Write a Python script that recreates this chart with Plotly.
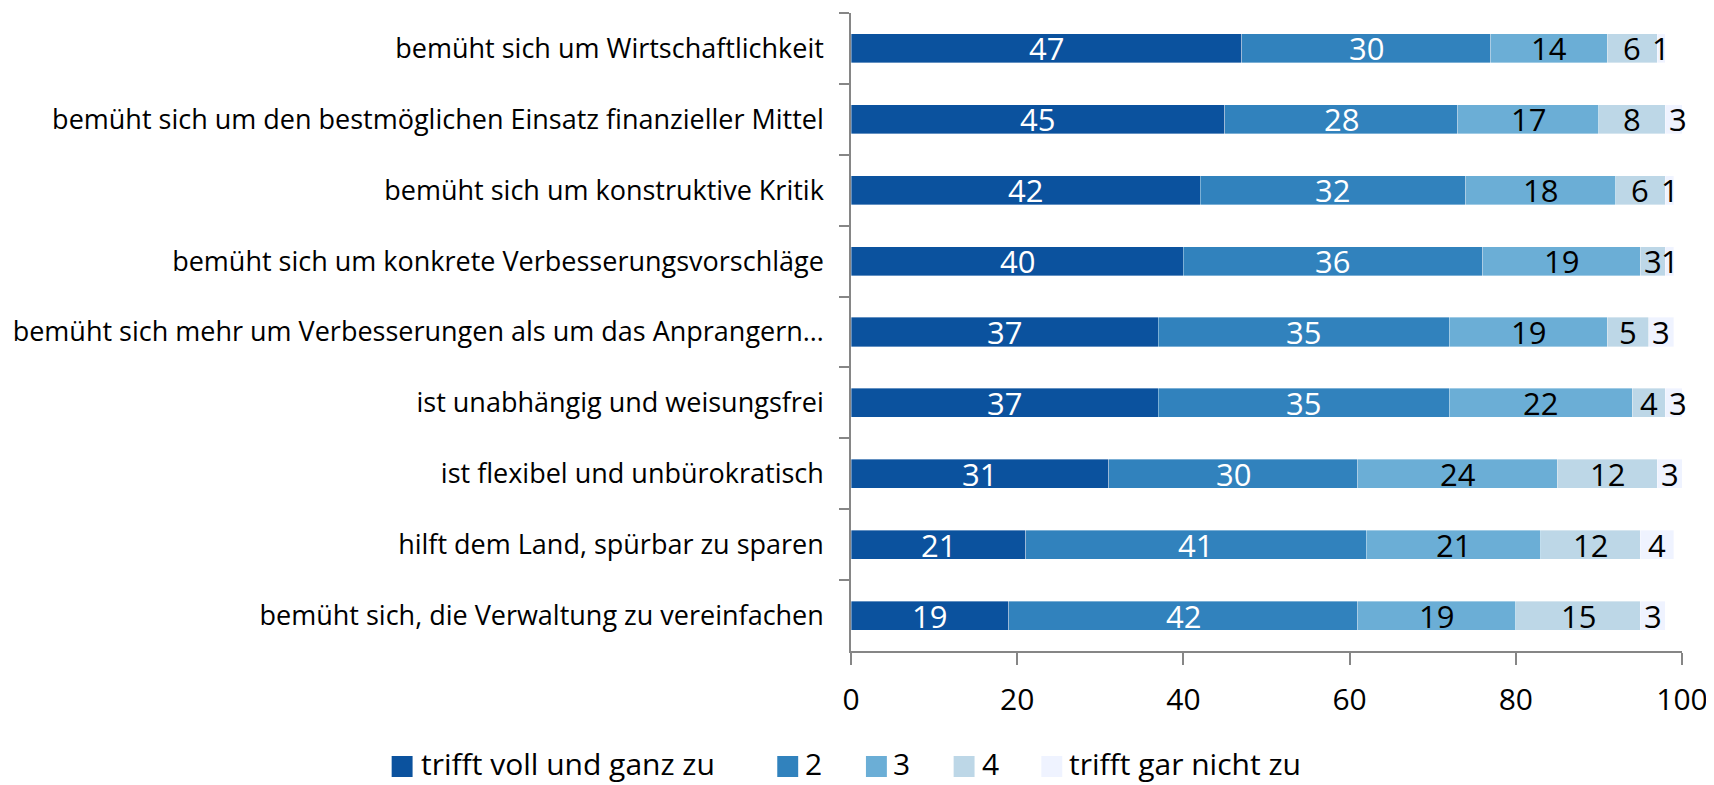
import plotly.graph_objects as go

categories = [
    "bemüht sich um Wirtschaftlichkeit",
    "bemüht sich um den bestmöglichen Einsatz finanzieller Mittel",
    "bemüht sich um konstruktive Kritik",
    "bemüht sich um konkrete Verbesserungsvorschläge",
    "bemüht sich mehr um Verbesserungen als um das Anprangern…",
    "ist unabhängig und weisungsfrei",
    "ist flexibel und unbürokratisch",
    "hilft dem Land, spürbar zu sparen",
    "bemüht sich, die Verwaltung zu vereinfachen",
]
series_names = ["trifft voll und ganz zu", "2", "3", "4", "trifft gar nicht zu"]
v1 = [47, 45, 42, 40, 37, 37, 31, 21, 19]
v2 = [30, 28, 32, 36, 35, 35, 30, 41, 42]
v3 = [14, 17, 18, 19, 19, 22, 24, 21, 19]
v4 = [6, 8, 6, 3, 5, 4, 12, 12, 15]
v5 = [1, 3, 1, 1, 3, 3, 3, 4, 3]
x_ticks = [0, 20, 40, 60, 80, 100]

colors = ["#0b529e", "#3182bd", "#6baed6", "#bdd7e7", "#eff3ff"]
text_colors = ["white", "white", "black", "black", "black"]
FONT = "Open Sans"

# page is rendered with an 8px body margin; compensate
OFF = 8
W, H = 1714 - OFF, 785 - OFF
PLOT_L, PLOT_R, PLOT_T, PLOT_B = 848, 1682, 13, 651  # page pixels
ML, MR, MT, MB = PLOT_L - OFF, W - (PLOT_R - OFF), PLOT_T - OFF, H - (PLOT_B - OFF)
PW, PH = W - ML - MR, H - MT - MB


def px_x(px):
    return (px - OFF - ML) / PW


def px_y(py):
    return (H - MB - (py - OFF)) / PH


fig = go.Figure()
all_series = [v1, v2, v3, v4, v5]
cum = [0] * len(categories)
annotations = []
for name, vals, col, tcol in zip(series_names, all_series, colors, text_colors):
    fig.add_trace(go.Bar(
        y=categories, x=vals, name=name, orientation="h", showlegend=False,
        marker=dict(color=col, line=dict(color="rgba(255,255,255,0.6)", width=0.6)),
    ))
    for i, (cat, v) in enumerate(zip(categories, vals)):
        annotations.append(dict(
            x=cum[i] + v / 2, y=cat, xref="x", yref="y", text=str(v), showarrow=False,
            font=dict(family=FONT, size=31, color=tcol), xanchor="center", yanchor="middle",
        ))
        cum[i] += v

# manual legend (square swatches + labels), page pixel positions
legend_sq_left = [387, 774, 863, 951, 1039]
legend_text_left = [418, 804, 892, 981, 1069]
shapes = []
for name, col, sx, tx in zip(series_names, colors, legend_sq_left, legend_text_left):
    shapes.append(dict(type="rect", xref="paper", yref="paper",
                       x0=px_x(sx), x1=px_x(sx + 21), y0=px_y(777), y1=px_y(756),
                       fillcolor=col, line=dict(width=0)))
    annotations.append(dict(x=px_x(tx - 4), y=px_y(763), xref="paper", yref="paper",
                            text=name, showarrow=False, xanchor="left", yanchor="middle",
                            font=dict(family=FONT, size=30, color="black")))

fig.update_layout(
    barmode="stack",
    bargap=0.59,
    width=W, height=H,
    margin=dict(l=ML, r=MR, t=MT, b=MB),
    plot_bgcolor="white", paper_bgcolor="white",
    font=dict(family=FONT, color="black"),
    showlegend=False,
    annotations=annotations,
    shapes=shapes,
    xaxis=dict(range=[0, 100], tickvals=x_ticks, showgrid=False, zeroline=False,
               showline=True, linecolor="#868686", linewidth=1.5,
               ticks="outside", ticklen=12, tickcolor="#868686", tickwidth=1.5,
               tickfont=dict(size=30, family=FONT, color="black"), ticklabelstandoff=9),
    yaxis=dict(autorange="reversed", showgrid=False, showline=True, linecolor="#868686",
               linewidth=1.5, ticks="outside", ticklen=10, tickcolor="#868686", tickwidth=1.5,
               tickson="boundaries", tickfont=dict(size=27, family=FONT, color="black"),
               ticklabelstandoff=20),
)

fig.write_html("out.html")
